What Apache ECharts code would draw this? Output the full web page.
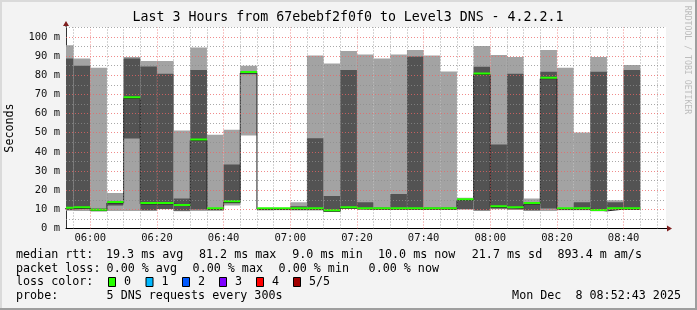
<!DOCTYPE html>
<html><head><meta charset="utf-8">
<script src="https://cdn.jsdelivr.net/npm/echarts@6/dist/echarts.min.js"></script>
<style>html,body{margin:0;padding:0;background:#f3f3f3}#c{width:697px;height:310px}</style>
</head><body><div id="c"></div>
<script>
// ---- data (5-minute slots, values in ms) ----
const slotTimes = ['05:50','05:55','06:00','06:05','06:10','06:15','06:20','06:25','06:30','06:35','06:40','06:45',
  '06:50','06:55','07:00','07:05','07:10','07:15','07:20','07:25','07:30','07:35','07:40','07:45',
  '07:50','07:55','08:00','08:05','08:10','08:15','08:20','08:25','08:30','08:35','08:40'];
const pingMin = [9.3,9.2,9.0,9.2,9.2,9.2,10.0,9.0,9.2,9.2,12.0,48.5,9.4,9.5,9.4,9.4,8.9,10.2,9.7,9.7,9.6,9.6,9.6,9.6,
  9.8,9.2,10.0,9.6,9.2,9.2,9.5,9.5,9.0,9.6,9.6];
const ping2 = [9.8,10.3,9.2,12.0,47.0,9.5,10.2,9.3,9.9,9.6,13.2,80.5,9.6,9.7,9.7,9.8,9.0,10.4,9.9,9.9,9.9,9.9,9.9,9.9,
  10.2,9.5,10.5,10.0,9.5,10.4,9.8,9.8,9.1,9.8,9.8];
const medianRtt = [10.3,10.6,9.3,13.3,68.0,12.8,12.8,11.8,46.0,10.1,13.7,81.2,10.1,10.1,10.1,10.1,9.0,10.6,10.1,10.1,10.1,10.1,10.1,10.1,
  14.8,80.4,11.1,10.6,12.8,78.2,10.1,10.1,9.2,10.1,10.0];
const ping4 = [88.7,85.0,10.4,14.0,88.7,84.6,80.8,15.6,82.8,10.4,33.4,82.0,10.3,10.3,11.6,47.1,17.0,82.8,13.7,10.9,18.0,89.8,10.9,10.9,
  15.4,84.4,43.8,80.8,13.7,81.8,10.5,13.7,81.8,13.7,82.8];
const pingMax = [95.7,88.7,83.9,18.5,89.6,87.5,87.5,51.1,94.5,49.0,51.6,85.0,10.5,10.6,13.7,90.3,86.1,92.7,90.8,88.7,90.8,93.2,90.3,82.0,
  16.1,95.3,90.6,89.6,15.6,93.2,83.9,50.1,89.6,14.7,85.4];
const windowStart = '05:52:43', windowEnd = '08:52:43';
const xTickLabels = ['06:00','06:20','06:40','07:00','07:20','07:40','08:00','08:20','08:40'];
const yTickLabels = [0,10,20,30,40,50,60,70,80,90,100];
const yMax = 105.2;
const stepMinutes = 5;

// ---- helpers ----
function toMin(s){const p=s.split(':').map(Number);return p[0]*60+p[1]+(p[2]||0)/60;}
function fmt(m){const h=Math.floor(m/60),mm=Math.round(m%60);return String(h).padStart(2,'0')+':'+String(mm).padStart(2,'0');}
const xMin = toMin(windowStart), xMax = toMin(windowEnd);
const slotData = slotTimes.map((t,i)=>[toMin(t),pingMin[i],ping2[i],medianRtt[i],ping4[i],pingMax[i]]);
const stepData = slotData.map(d=>[d[0],d[3]]);
stepData.push([slotData[slotData.length-1][0]+stepMinutes, medianRtt[medianRtt.length-1]]);

const LIGHT='#a3a3a3', DARK='#535353', GREEN='#26ff00';
const FONT='"DejaVu Sans Mono", monospace';
const GRID_MINOR='rgba(140,140,140,0.75)', GRID_MAJOR='rgba(235,100,100,0.75)';

const gridLines = [];
for(let t=Math.ceil(xMin/5)*5; t<xMax; t+=5){
  gridLines.push({xAxis:t, lineStyle:{color: t%20===0?GRID_MAJOR:GRID_MINOR, type:[1,2], width:1}});
}
for(let v=5; v<yMax; v+=5){
  gridLines.push({yAxis:v, lineStyle:{color: v%10===0?GRID_MAJOR:GRID_MINOR, type:[1,2], width:1}});
}

const chart = echarts.init(document.getElementById('c'), null, {renderer:'canvas'});
chart.setOption({
  animation:false,
  backgroundColor:'#f3f3f3',
  grid:{left:66, right:31, top:27, bottom:81.5, show:true, backgroundColor:'#ffffff', borderWidth:0},
  xAxis:{type:'value', min:xMin, max:xMax,
    axisLine:{show:true, onZero:false, lineStyle:{color:'#000', width:1}},
    axisTick:{show:false},
    splitLine:{show:false},
    axisLabel:{customValues:xTickLabels.map(toMin), formatter:v=>fmt(v), fontFamily:FONT, fontSize:10.5, color:'#111', margin:4.5}
  },
  yAxis:{type:'value', min:0, max:yMax,
    axisLine:{show:true, lineStyle:{color:'#333', width:1}},
    axisTick:{show:false},
    splitLine:{show:false},
    axisLabel:{customValues:yTickLabels, formatter:v=>v+' m', fontFamily:FONT, fontSize:10.5, color:'#111', margin:6}
  },
  series:[
    {type:'custom', clip:true, z:2, data:slotData, encode:{x:0,y:[1,5]},
      renderItem:function(params, api){
        const s=api.value(0), e=s+stepMinutes;
        const x0=api.coord([s,0])[0], x1=api.coord([e,0])[0];
        const Y=v=>api.coord([s,v])[1];
        const mn=api.value(1), q2=api.value(2), md=api.value(3), q4=api.value(4), mx=api.value(5);
        return {type:'group', children:[
          {type:'rect', shape:{x:x0,y:Y(mx),width:x1-x0,height:Y(mn)-Y(mx)}, style:{fill:LIGHT}},
          {type:'rect', shape:{x:x0,y:Y(q4),width:x1-x0,height:Y(q2)-Y(q4)}, style:{fill:DARK}}
        ]};
      }
    },
    {type:'line', z:3, step:'end', data:stepData, symbol:'none', clip:true,
      lineStyle:{color:'#202020', width:1}, silent:true},
    {type:'custom', clip:true, z:4, data:slotData, encode:{x:0,y:3},
      renderItem:function(params, api){
        const s=api.value(0), e=s+stepMinutes;
        const x0=api.coord([s,0])[0], x1=api.coord([e,0])[0];
        const y=api.coord([s,api.value(3)])[1];
        return {type:'rect', shape:{x:x0,y:y-2,width:x1-x0,height:2}, style:{fill:GREEN}};
      }
    },
    {type:'line', z:5, data:[], symbol:'none', silent:true,
      markLine:{silent:true, symbol:['none','none'], label:{show:false}, animation:false, data:gridLines}}
  ]
});

// axis arrows placed from the axes' own coordinates
const pTop = chart.convertToPixel({gridIndex:0},[xMin,yMax]);
const pRight = chart.convertToPixel({gridIndex:0},[xMax,0]);
const ARROW='#7f1f1f';
const g = [];
g.push({type:'line', shape:{x1:pTop[0],y1:pTop[1],x2:pTop[0],y2:pTop[1]-3}, style:{stroke:'#333',lineWidth:1}, z:10});
g.push({type:'polygon', shape:{points:[[pTop[0]-3,pTop[1]-1],[pTop[0]+3,pTop[1]-1],[pTop[0],pTop[1]-6]]}, style:{fill:ARROW}, z:10});
g.push({type:'line', shape:{x1:pRight[0],y1:pRight[1],x2:pRight[0]+2,y2:pRight[1]}, style:{stroke:'#000',lineWidth:1}, z:10});
g.push({type:'polygon', shape:{points:[[pRight[0]+1,pRight[1]-3],[pRight[0]+1,pRight[1]+3],[pRight[0]+6,pRight[1]]]}, style:{fill:ARROW}, z:10});
// frame
g.push({type:'rect', shape:{x:0,y:0,width:2,height:310}, style:{fill:'#dadada'}, z:1});
g.push({type:'rect', shape:{x:0,y:0,width:697,height:2}, style:{fill:'#dadada'}, z:1});
g.push({type:'rect', shape:{x:695,y:0,width:2,height:310}, style:{fill:'#9e9e9e'}, z:1});
g.push({type:'rect', shape:{x:0,y:308,width:697,height:2}, style:{fill:'#9e9e9e'}, z:1});
// title & side texts
function txt(x,y,s,opt){return Object.assign({type:'text', x:x, y:y, z:10, style:Object.assign({text:s, font:'11.7px '+FONT, fill:'#000', textVerticalAlign:'middle', textAlign:'left'},opt||{})});}
g.push(txt(348,18,'Last 3 Hours from 67ebebf2f0f0 to Level3 DNS - 4.2.2.1',{font:'13.25px '+FONT, textAlign:'center'}));
g.push({type:'text', x:10, y:128, rotation:Math.PI/2, z:10, style:{text:'Seconds', font:'11.7px '+FONT, fill:'#000', textAlign:'center', textVerticalAlign:'middle'}});
g.push({type:'text', x:687, y:60, rotation:-Math.PI/2, z:10, style:{text:'RRDTOOL / TOBI OETIKER', font:'8.2px '+FONT, fill:'#bdbdbd', textAlign:'center', textVerticalAlign:'middle'}});
// legend rows
const r1=254.5, r2=268.5, r3=282, r4=296;
g.push(txt(16,r1,'median rtt:'));
g.push(txt(106,r1,'19.3 ms avg'));
g.push(txt(199,r1,'81.2 ms max'));
g.push(txt(292.3,r1,'9.0 ms min'));
g.push(txt(378,r1,'10.0 ms now'));
g.push(txt(471.8,r1,'21.7 ms sd'));
g.push(txt(557.5,r1,'893.4 m am/s'));
g.push(txt(16,r2,'packet loss:'));
g.push(txt(106.6,r2,'0.00 % avg'));
g.push(txt(192.6,r2,'0.00 % max'));
g.push(txt(278.6,r2,'0.00 % min'));
g.push(txt(368.6,r2,'0.00 % now'));
g.push(txt(16,r3,'loss color:'));
const lossLabels=['0','1','2','3','4','5/5'];
const lossColors=['#26ff00','#00b8ff','#0059ff','#7e00ff','#ff0000','#a10000'];
const boxX=[108.5,146,182.5,219.5,256.5,293.5];
lossLabels.forEach((l,i)=>{
  g.push({type:'rect', shape:{x:boxX[i],y:r3-4.5,width:7,height:9}, style:{fill:lossColors[i], stroke:'#000', lineWidth:1}, z:10});
  g.push(txt(boxX[i]+15.5,r3,l));
});
g.push(txt(16,r4,'probe:'));
g.push(txt(106.6,r4,'5 DNS requests every 300s'));
g.push(txt(681,r4,'Mon Dec  8 08:52:43 2025',{textAlign:'right'}));
chart.setOption({graphic:g});
</script>
</body></html>
